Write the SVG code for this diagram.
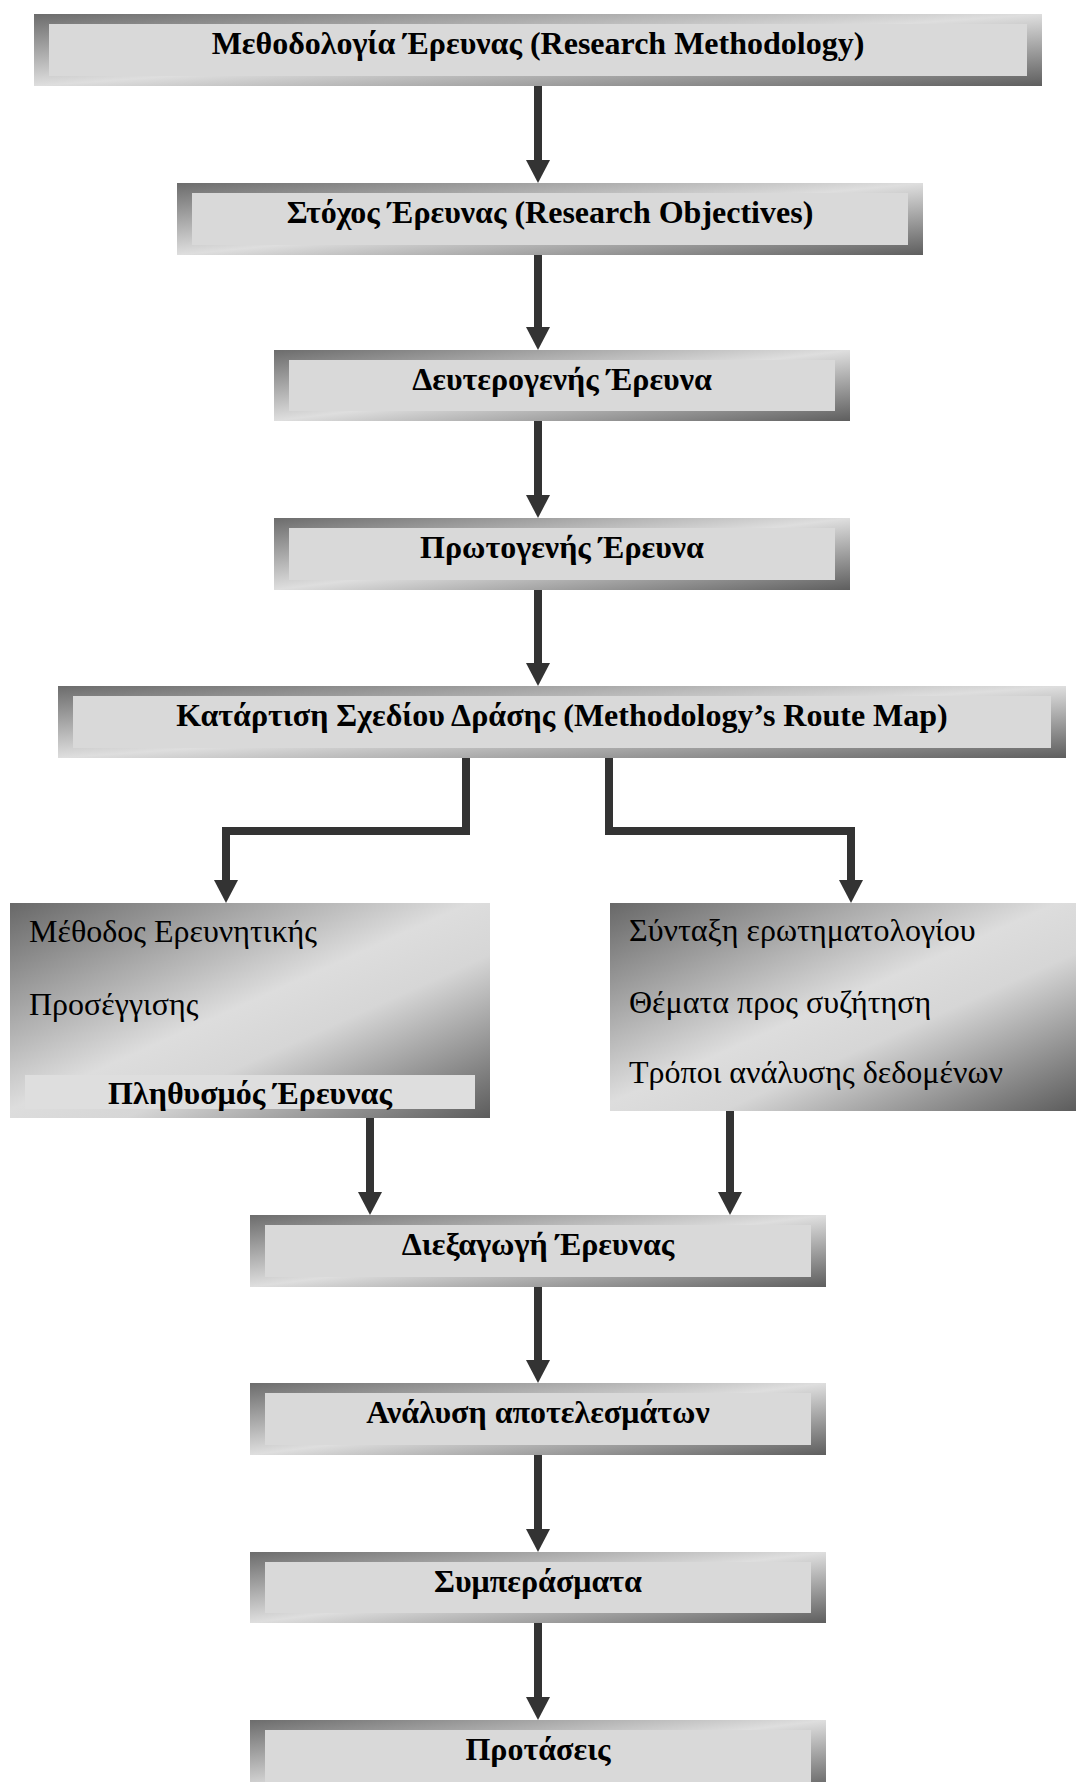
<svg xmlns="http://www.w3.org/2000/svg" width="1076" height="1782" viewBox="0 0 1076 1782">
<defs>
<linearGradient id="frame" x1="0" y1="0" x2="1" y2="1">
<stop offset="0" stop-color="#6c6c6c"/>
<stop offset="0.5" stop-color="#dedede"/>
<stop offset="1" stop-color="#5e5e5e"/>
</linearGradient>
<linearGradient id="big" x1="0" y1="0" x2="1" y2="1">
<stop offset="0" stop-color="#686868"/>
<stop offset="0.48" stop-color="#dddddd"/>
<stop offset="0.62" stop-color="#d6d6d6"/>
<stop offset="1" stop-color="#5c5c5c"/>
</linearGradient>
<marker id="ah" viewBox="0 0 23 24" refX="0" refY="12" markerWidth="23" markerHeight="24" markerUnits="userSpaceOnUse" orient="auto">
<path d="M0,0 L23,12 L0,24 Z" fill="#333333"/>
</marker>
</defs>
<style>
.outer{fill:url(#frame)}
.inner{fill:#d9d9d9}
.big{fill:url(#big)}
.band{fill:#dedede}
.t{font-family:"Liberation Serif","Times New Roman",serif;font-weight:bold;font-size:32px;fill:#000;text-anchor:middle}
.r{font-family:"Liberation Serif","Times New Roman",serif;font-size:32px;fill:#000}
.tb{font-family:"Liberation Serif","Times New Roman",serif;font-weight:bold;font-size:32px;fill:#000;text-anchor:middle}
.c{fill:none;stroke:#333333;stroke-width:8;stroke-linejoin:miter;marker-end:url(#ah)}
</style>
<rect width="1076" height="1782" fill="#ffffff"/>
<g id="connectors">
<path class="c" d="M538,86 V160"/>
<path class="c" d="M538,255 V327"/>
<path class="c" d="M538,421 V495"/>
<path class="c" d="M538,590 V663"/>
<path class="c" d="M466,758 V831 H226 V880"/>
<path class="c" d="M609,758 V831 H851 V880"/>
<path class="c" d="M370,1118 V1192"/>
<path class="c" d="M730,1111 V1192"/>
<path class="c" d="M538,1287 V1360"/>
<path class="c" d="M538,1455 V1529"/>
<path class="c" d="M538,1623 V1697"/>
</g>
<g id="n1">
<rect class="outer" x="34" y="14" width="1008" height="72"/>
<rect class="inner" x="49" y="24" width="978" height="52"/>
<text class="t" x="538" y="54">Μεθοδολογία Έρευνας (Research Methodology)</text>
</g>
<g id="n2">
<rect class="outer" x="177" y="183" width="746" height="72"/>
<rect class="inner" x="192" y="193" width="716" height="52"/>
<text class="t" x="550" y="223">Στόχος Έρευνας (Research Objectives)</text>
</g>
<g id="n3">
<rect class="outer" x="274" y="350" width="576" height="71"/>
<rect class="inner" x="289" y="360" width="546" height="51"/>
<text class="t" x="562" y="390">Δευτερογενής Έρευνα</text>
</g>
<g id="n4">
<rect class="outer" x="274" y="518" width="576" height="72"/>
<rect class="inner" x="289" y="528" width="546" height="52"/>
<text class="t" x="562" y="558">Πρωτογενής Έρευνα</text>
</g>
<g id="n5">
<rect class="outer" x="58" y="686" width="1008" height="72"/>
<rect class="inner" x="73" y="696" width="978" height="52"/>
<text class="t" x="562" y="726">Κατάρτιση Σχεδίου Δράσης (Methodology’s Route Map)</text>
</g>
<g id="n6">
<rect class="big" x="10" y="903" width="480" height="215"/>
<text class="r" x="29" y="942">Μέθοδος Ερευνητικής</text>
<text class="r" x="29" y="1015">Προσέγγισης</text>
<rect class="band" x="25" y="1075" width="450" height="34"/>
<text class="tb" x="250" y="1104">Πληθυσμός Έρευνας</text>
</g>
<g id="n7">
<rect class="big" x="610" y="903" width="466" height="208"/>
<text class="r" x="629" y="941">Σύνταξη ερωτηματολογίου</text>
<text class="r" x="629" y="1013">Θέματα προς συζήτηση</text>
<text class="r" x="629" y="1083">Τρόποι ανάλυσης δεδομένων</text>
</g>
<g id="n8">
<rect class="outer" x="250" y="1215" width="576" height="72"/>
<rect class="inner" x="265" y="1225" width="546" height="52"/>
<text class="t" x="538" y="1255">Διεξαγωγή Έρευνας</text>
</g>
<g id="n9">
<rect class="outer" x="250" y="1383" width="576" height="72"/>
<rect class="inner" x="265" y="1393" width="546" height="52"/>
<text class="t" x="538" y="1423">Ανάλυση αποτελεσμάτων</text>
</g>
<g id="n10">
<rect class="outer" x="250" y="1552" width="576" height="71"/>
<rect class="inner" x="265" y="1562" width="546" height="51"/>
<text class="t" x="538" y="1592">Συμπεράσματα</text>
</g>
<g id="n11">
<rect class="outer" x="250" y="1720" width="576" height="72"/>
<rect class="inner" x="265" y="1730" width="546" height="52"/>
<text class="t" x="538" y="1760">Προτάσεις</text>
</g>
</svg>
